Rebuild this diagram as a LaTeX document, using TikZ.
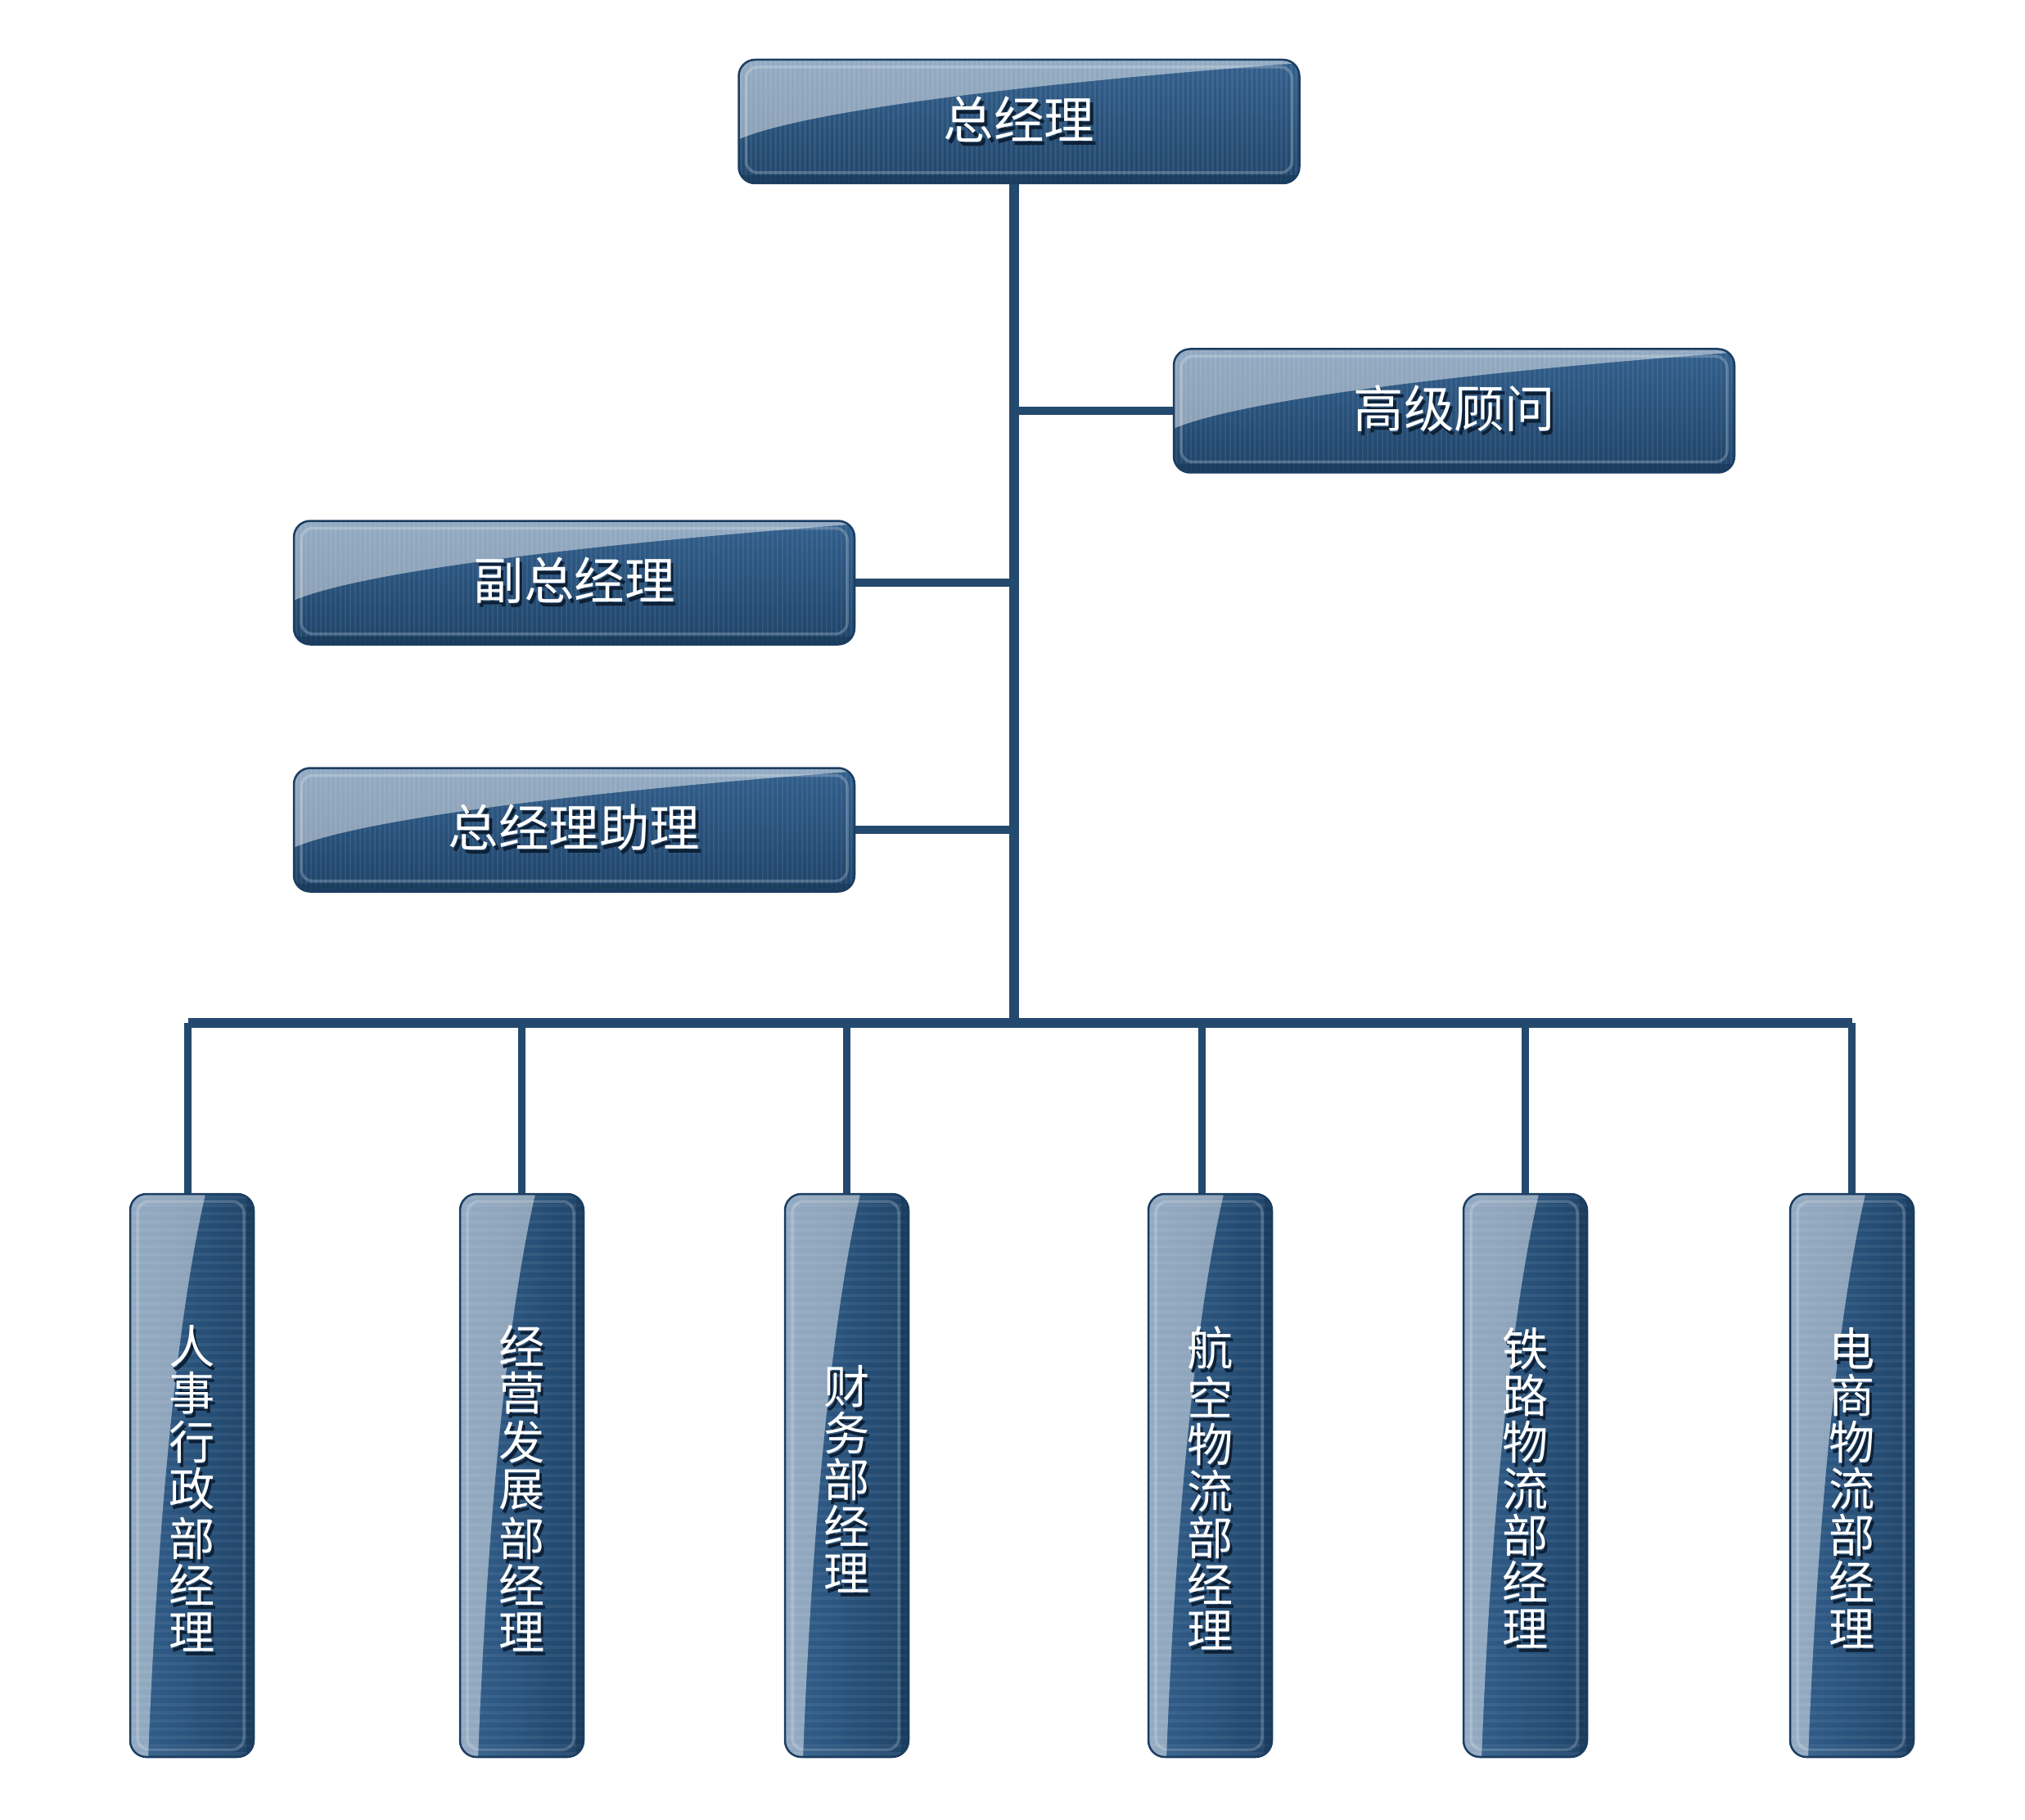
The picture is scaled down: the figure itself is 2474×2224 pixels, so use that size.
\documentclass[tikz,border=0pt]{standalone}
\usepackage{fontspec}
\newfontfamily\cjk{Noto Sans CJK SC}
\usetikzlibrary{calc}
\definecolor{linec}{HTML}{24496E}
\definecolor{boxtop}{HTML}{33608D}
\definecolor{boxbot}{HTML}{1F4469}
\definecolor{boxdark}{HTML}{163655}
\definecolor{boxedge}{HTML}{1B3D61}
\definecolor{shadowc}{HTML}{0E2035}
\newcommand\shtxt[1]{\leavevmode\rlap{\kern0.35mm\raisebox{-0.5mm}{\textcolor{shadowc}{#1}}}\textcolor{white}{#1}}
\tikzset{
  hbox/.style={rounded corners=2mm, minimum width=68.5mm, minimum height=15.1mm, inner sep=0pt,
    draw=boxedge, line width=0.25mm, fill=boxbot,
    font=\cjk\fontsize{17.5pt}{20pt}\selectfont,
    path picture={
      \shade[sharp corners, top color=boxtop, bottom color=boxbot]
        (path picture bounding box.south west) rectangle (path picture bounding box.north east);
      \foreach \i in {3,9,...,690}
        \draw[white, opacity=.07, line width=.25mm]
          ([xshift=\i*0.1mm]path picture bounding box.north west) -- ([xshift=\i*0.1mm]path picture bounding box.south west);
      \fill[white, opacity=.47, sharp corners]
        ([shift={(-5,-5)}]path picture bounding box.north west) -- ([shift={(700,-5)}]path picture bounding box.north west)
        -- ([shift={(700,3)}]path picture bounding box.north west)
        .. controls ([shift={(360,28)}]path picture bounding box.north west) and ([shift={(80,62)}]path picture bounding box.north west)
        .. ([shift={(-2,98)}]path picture bounding box.north west) -- cycle;
      \fill[boxdark, opacity=.6, sharp corners]
        ([shift={(0,-10)}]path picture bounding box.south west) rectangle (path picture bounding box.south east);
      \draw[white, opacity=.22, line width=.35mm, rounded corners=1.4mm]
        ([shift={(9,9)}]path picture bounding box.north west) rectangle ([shift={(-9,-13)}]path picture bounding box.south east);
    }},
  vbox/.style={rounded corners=2mm, minimum width=15.1mm, minimum height=68.8mm, inner sep=0pt,
    draw=boxedge, line width=0.25mm, fill=boxbot,
    path picture={
      \shade[sharp corners, left color=boxtop, right color=boxbot]
        (path picture bounding box.south west) rectangle (path picture bounding box.north east);
      \foreach \i in {4,14,...,700}
        \draw[white, opacity=.06, line width=.4mm]
          ([yshift=-\i*0.1mm]path picture bounding box.north west) -- ([yshift=-\i*0.1mm]path picture bounding box.north east);
      \fill[white, opacity=.47, sharp corners]
        ([shift={(-5,-5)}]path picture bounding box.north west) -- ([shift={(92,-5)}]path picture bounding box.north west)
        -- ([shift={(92,0)}]path picture bounding box.north west)
        .. controls ([shift={(55,160)}]path picture bounding box.north west) and ([shift={(32,430)}]path picture bounding box.north west)
        .. ([shift={(22,690)}]path picture bounding box.north west)
        -- ([shift={(22,700)}]path picture bounding box.north west) -- ([shift={(-5,700)}]path picture bounding box.north west) -- cycle;
      \fill[boxdark, opacity=.5, sharp corners]
        ([shift={(-9,0)}]path picture bounding box.north east) rectangle (path picture bounding box.south east);
      \draw[white, opacity=.2, line width=.35mm, rounded corners=1.4mm]
        ([shift={(9,9)}]path picture bounding box.north west) rectangle ([shift={(-12,-9)}]path picture bounding box.south east);
    }},
  vlbl/.style={align=center, inner sep=0pt, font=\cjk\fontsize{16pt}{16.2pt}\selectfont},
  trunk/.style={draw=linec, line width=1.2mm},
  branch/.style={draw=linec, line width=1.0mm},
  bar/.style={draw=linec, line width=1.25mm},
  drop/.style={draw=linec, line width=0.9mm},
}
\begin{document}
\begin{tikzpicture}[x=0.1mm, y=-0.1mm]
\useasboundingbox (0,0) rectangle (2474,2224);
\coordinate (hub) at (1239,1250);
\node[hbox] (gm)   at (1245,148.5) {\shtxt{总经理}};
\node[hbox] (adv)  at (1776.5,502) {\shtxt{高级顾问}};
\node[hbox] (dep)  at (701.5,712)  {\shtxt{副总经理}};
\node[hbox] (asst) at (701.5,1014) {\shtxt{总经理助理}};
\node[vbox] (b1) at (234.5,1803) {};
\node[vbox] (b2) at (637.5,1803) {};
\node[vbox] (b3) at (1034.5,1803) {};
\node[vbox] (b4) at (1478.5,1803) {};
\node[vbox] (b5) at (1863.5,1803) {};
\node[vbox] (b6) at (2262.5,1803) {};
\node[vlbl] (t1) at ([yshift=-1.8mm]b1.center) {\shtxt{人}\\\shtxt{事}\\\shtxt{行}\\\shtxt{政}\\\shtxt{部}\\\shtxt{经}\\\shtxt{理}};
\node[vlbl] (t2) at ([yshift=-1.8mm]b2.center) {\shtxt{经}\\\shtxt{营}\\\shtxt{发}\\\shtxt{展}\\\shtxt{部}\\\shtxt{经}\\\shtxt{理}};
\node[vlbl] (t3) at ([yshift=-0.7mm]b3.center) {\shtxt{财}\\\shtxt{务}\\\shtxt{部}\\\shtxt{经}\\\shtxt{理}};
\node[vlbl] (t4) at ([yshift=-1.8mm]b4.center) {\shtxt{航}\\\shtxt{空}\\\shtxt{物}\\\shtxt{流}\\\shtxt{部}\\\shtxt{经}\\\shtxt{理}};
\node[vlbl] (t5) at ([yshift=-1.8mm]b5.center) {\shtxt{铁}\\\shtxt{路}\\\shtxt{物}\\\shtxt{流}\\\shtxt{部}\\\shtxt{经}\\\shtxt{理}};
\node[vlbl] (t6) at ([yshift=-1.8mm]b6.center) {\shtxt{电}\\\shtxt{商}\\\shtxt{物}\\\shtxt{流}\\\shtxt{部}\\\shtxt{经}\\\shtxt{理}};
\path[trunk] (hub |- gm.south) -- (hub);
\path[branch] (hub |- adv.west) -- (adv.west);
\path[branch] (dep.east) -- (hub |- dep.east);
\path[branch] (asst.east) -- (hub |- asst.east);
\path[bar] ([xshift=-0.5mm]b1.north |- hub) -- (b6.north |- hub);
\path[drop] ([xshift=-0.5mm]b1.north |- hub) -- ([xshift=-0.5mm]b1.north);
\path[drop] (b2.north |- hub) -- (b2.north);
\path[drop] (b3.north |- hub) -- (b3.north);
\path[drop] ([xshift=-1mm]b4.north |- hub) -- ([xshift=-1mm]b4.north);
\path[drop] (b5.north |- hub) -- (b5.north);
\path[drop] (b6.north |- hub) -- (b6.north);
\end{tikzpicture}
\end{document}
